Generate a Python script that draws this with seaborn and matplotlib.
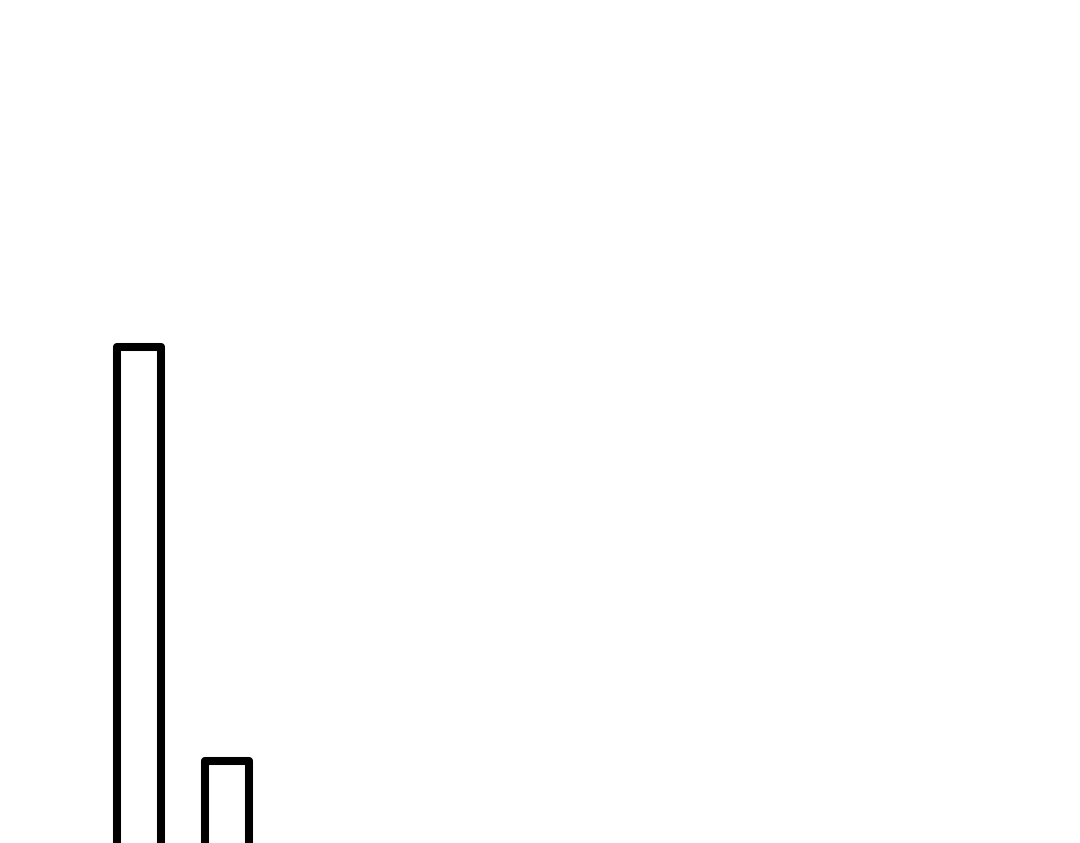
import matplotlib
matplotlib.use("Agg")
import matplotlib.pyplot as plt
import seaborn as sns
import pandas as pd

categories = ["A", "B"]
values = [4.0, 1.0]

df = pd.DataFrame({"cat": categories, "val": values})

sns.set_style("white")
fig = plt.figure(figsize=(10.8, 8.43), dpi=100)
ax = fig.add_axes([0, 0, 1, 1])
sns.barplot(data=df, x="cat", y="val", color="white", edgecolor="black",
            linewidth=5.8, width=0.49, saturation=1, ax=ax)
for p in ax.patches:
    p.set_joinstyle("round")
    p.set_facecolor("white")

px_per_x = 88.0
left_px = 139.0
ax.set_xlim(-left_px / px_per_x, (1080 - left_px) / px_per_x)
px_per_y = 138.0
base_px = 899.0
ybot = (base_px - 843) / px_per_y
ax.set_ylim(ybot, ybot + 843 / px_per_y)
ax.axis("off")
fig.savefig("out.png", dpi=100, facecolor="white")
